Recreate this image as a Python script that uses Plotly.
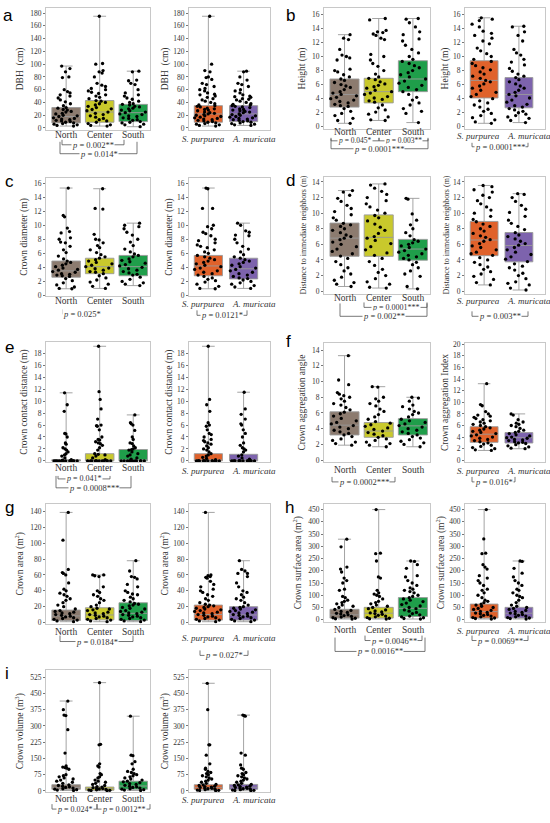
import plotly.graph_objects as go

# categories
REGIONS = ["North", "Center", "South"]
SPECIES = ["S. purpurea", "A. muricata"]
REGION_COLORS = ["#8C7B6F", "#C9C92C", "#1F9E4A"]
SPECIES_COLORS = ["#E0622B", "#7D63AD"]

# box stats per box: [min, q1, median, q3, max]  order: North, Center, South, S. purpurea, A. muricata
a_box = [[3, 8, 18, 32, 97], [3, 9, 25, 43, 175], [2, 10, 24, 37, 89], [3, 9, 22, 35, 175], [4, 10, 22, 35, 89]]
b_box = [[0.5, 2.8, 4.6, 6.8, 13.1], [0.9, 3.4, 5.0, 6.9, 15.4], [0.6, 5.0, 6.8, 9.4, 15.4],
         [0.5, 4.1, 6.6, 9.4, 15.5], [0.6, 2.7, 4.6, 7.0, 14.3]]
c_box = [[0.95, 2.6, 3.5, 4.9, 15.3], [1.0, 3.1, 4.1, 5.3, 15.2], [1.4, 2.8, 4.1, 5.7, 10.3],
         [0.95, 2.8, 4.2, 5.7, 15.3], [1.0, 2.35, 3.8, 5.3, 10.3]]
d_box = [[0.6, 4.47, 6.8, 8.73, 12.9], [0.4, 4.47, 6.9, 9.78, 13.75], [0.3, 3.97, 5.4, 6.64, 11.9],
         [0.8, 4.55, 6.56, 8.94, 13.55], [0.15, 3.76, 5.85, 7.52, 12.5]]
e_box = [[0, 0, 0, 0.2, 11.4], [0, 0, 0, 1.2, 19.2], [0, 0, 0, 1.9, 7.7], [0, 0, 0, 1.2, 19.2], [0, 0, 0, 1.1, 11.5]]
f_box = [[1.9, 3.2, 4.45, 6.15, 13.3], [1.7, 2.9, 3.7, 4.78, 9.35], [1.7, 3.2, 4.36, 5.28, 8.0],
         [1.7, 3.1, 4.5, 5.8, 13.2], [2.0, 2.98, 3.9, 4.78, 8.0]]
g_box = [[1, 2.5, 8.3, 15.7, 139], [1, 3.3, 9.5, 18.6, 60], [1, 2.5, 11.6, 24.9, 78], [1, 3, 10, 22, 139], [1, 3, 9.5, 20, 78]]
h_box = [[3, 6.7, 20, 42.6, 329], [3, 6.7, 26.6, 50.6, 450], [3, 13.3, 46.6, 90.5, 240],
         [3, 6.7, 33, 64, 450], [3, 6.7, 26.6, 50.6, 240]]
i_box = [[2, 7.6, 16.6, 28.7, 415], [1, 3, 10.6, 18, 500], [2, 7.6, 22.7, 45, 345], [1, 7.6, 16.6, 28.7, 497], [1, 7.6, 17, 30, 350]]

# individual trees (thinned)
a_north = [97, 93, 88, 80, 79, 60, 57, 55, 52, 50, 47, 44, 41, 38, 35, 32, 31, 29, 28, 26, 25, 23, 22, 20,
           19, 18, 16, 15, 14, 13, 12, 11, 10, 9, 8, 7, 6, 5, 4, 3]
a_center = [175, 101, 100, 90, 88, 86, 80, 70, 67, 65, 62, 60, 58, 56, 54, 52, 50, 48, 46, 43, 42, 40, 38,
            36, 34, 32, 30, 29, 27, 25, 23, 21, 19, 17, 15, 13, 11, 9, 7, 5, 4, 3]
a_south = [89, 88, 75, 74, 70, 68, 60, 55, 52, 50, 47, 45, 42, 40, 38, 37, 36, 34, 33, 31, 30, 28, 27, 25,
           24, 22, 21, 19, 18, 16, 15, 13, 12, 10, 9, 8, 6, 5, 2]
a_spur = [175, 100, 90, 88, 80, 79, 76, 70, 68, 65, 62, 60, 58, 55, 53, 52, 50, 48, 46, 44, 42, 40, 38, 36,
          35, 34, 33, 31, 30, 29, 28, 27, 25, 24, 23, 22, 21, 20, 19, 18, 17, 16, 15, 14, 13, 12, 11, 10,
          9, 8, 7, 6, 5, 4, 3]
a_amur = [89, 88, 80, 75, 70, 68, 65, 60, 58, 55, 52, 50, 49, 48, 46, 45, 44, 42, 40, 38, 37, 36, 35, 34,
          33, 32, 30, 29, 28, 27, 26, 25, 24, 22, 21, 20, 19, 18, 17, 16, 15, 14, 13, 12, 11, 10, 9, 8,
          7, 6, 5, 4]

b_north = [13.1, 12.6, 12.4, 11.0, 10.2, 10.0, 9.8, 9.5, 8.2, 8.0, 7.8, 7.4, 7.1, 6.8, 6.6, 6.3, 6.0, 5.8,
           5.6, 5.3, 5.0, 4.8, 4.6, 4.4, 4.2, 4.0, 3.8, 3.6, 3.4, 3.2, 3.0, 2.9, 2.6, 2.2, 1.9, 1.6, 1.2,
           0.9, 0.5]
b_center = [15.4, 15.2, 13.7, 13.5, 13.4, 13.2, 13.0, 12.6, 12.4, 10.3, 10.0, 9.5, 9.0, 8.6, 8.0, 7.5, 7.1,
            6.9, 6.7, 6.4, 6.1, 5.9, 5.7, 5.5, 5.2, 5.0, 4.8, 4.6, 4.3, 4.1, 3.9, 3.7, 3.5, 3.1, 2.7,
            2.4, 2.1, 1.8, 1.4, 1.0, 0.9]
b_south = [15.4, 15.3, 14.8, 14.2, 13.5, 13.1, 12.5, 12.2, 11.6, 11.0, 10.5, 10.0, 9.6, 9.3, 9.0, 8.7,
           8.4, 8.0, 7.7, 7.4, 7.1, 6.8, 6.5, 6.2, 5.9, 5.6, 5.3, 5.0, 4.6, 4.2, 3.8, 3.4, 3.1, 2.6,
           2.2, 1.9, 0.6]
b_spur = [15.5, 15.3, 15.1, 14.6, 14.2, 13.6, 13.3, 13.0, 12.6, 12.2, 11.8, 11.2, 10.8, 10.4, 10.0, 9.6,
          9.3, 9.0, 8.7, 8.4, 8.1, 7.8, 7.5, 7.2, 6.9, 6.6, 6.4, 6.1, 5.8, 5.5, 5.2, 4.9, 4.6, 4.3, 4.0,
          3.7, 3.4, 3.1, 2.8, 2.5, 2.2, 1.9, 1.6, 1.3, 1.0, 0.7, 0.5]
b_amur = [14.3, 14.2, 13.5, 13.0, 12.2, 11.0, 10.5, 10.2, 9.6, 9.2, 8.8, 8.3, 7.9, 7.5, 7.2, 7.0, 6.7, 6.4,
          6.1, 5.8, 5.5, 5.2, 4.9, 4.6, 4.4, 4.1, 3.8, 3.5, 3.2, 3.0, 2.8, 2.6, 2.4, 2.2, 2.0, 1.8, 1.6,
          1.4, 1.2, 0.9, 0.6]

c_north = [15.3, 11.4, 11.2, 9.6, 9.1, 8.9, 8.2, 8.0, 7.6, 7.5, 7.0, 6.5, 6.1, 5.6, 5.2, 4.9, 4.7, 4.5,
           4.3, 4.1, 3.9, 3.7, 3.6, 3.4, 3.3, 3.1, 3.0, 2.9, 2.8, 2.7, 2.4, 2.1, 1.8, 1.5, 1.2, 1.0, 0.95]
c_center = [15.2, 12.4, 12.3, 8.7, 8.0, 7.9, 7.5, 7.1, 6.8, 6.5, 6.1, 5.8, 5.5, 5.3, 5.1, 4.9, 4.7, 4.5,
            4.3, 4.1, 3.9, 3.8, 3.6, 3.4, 3.3, 3.1, 2.8, 2.5, 2.2, 1.9, 1.6, 1.3, 1.0]
c_south = [10.3, 10.0, 9.8, 9.5, 9.0, 8.6, 8.0, 7.6, 7.1, 6.6, 6.2, 5.9, 5.7, 5.5, 5.2, 5.0, 4.8, 4.6,
           4.4, 4.2, 4.0, 3.8, 3.6, 3.4, 3.2, 3.0, 2.9, 2.6, 2.3, 2.0, 1.8, 1.6, 1.4]
c_spur = [15.3, 15.2, 12.4, 12.4, 10.0, 9.8, 9.5, 9.0, 8.8, 8.5, 8.0, 7.8, 7.5, 7.2, 7.0, 6.8, 6.5, 6.2,
          6.0, 5.7, 5.5, 5.3, 5.1, 4.9, 4.7, 4.5, 4.3, 4.1, 3.9, 3.7, 3.5, 3.3, 3.1, 2.9, 2.7, 2.5, 2.3,
          2.1, 1.9, 1.6, 1.3, 1.0, 0.95]
c_amur = [10.3, 10.0, 9.2, 9.0, 8.6, 8.5, 8.0, 7.5, 7.0, 6.6, 6.2, 5.8, 5.5, 5.3, 5.1, 4.9, 4.7, 4.5, 4.3,
          4.1, 3.9, 3.7, 3.5, 3.3, 3.1, 2.9, 2.7, 2.5, 2.4, 2.2, 2.0, 1.8, 1.6, 1.4, 1.2, 1.0]

d_north = [12.9, 12.7, 12.3, 11.9, 11.5, 11.0, 10.6, 10.2, 9.8, 9.4, 9.1, 8.7, 8.5, 8.3, 8.0, 7.8, 7.5,
           7.2, 7.0, 6.8, 6.6, 6.3, 6.0, 5.7, 5.4, 5.1, 4.8, 4.5, 4.2, 3.8, 3.4, 3.0, 2.6, 2.2, 1.8, 1.4,
           1.1, 0.9, 0.6]
d_center = [13.75, 13.6, 13.2, 12.8, 12.4, 12.0, 11.6, 11.2, 10.8, 10.4, 10.0, 9.7, 9.4, 9.0, 8.6, 8.2,
            7.8, 7.4, 7.0, 6.8, 6.5, 6.1, 5.7, 5.3, 4.9, 4.6, 4.2, 3.8, 3.3, 2.8, 2.4, 2.0, 1.6, 1.2,
            0.9, 0.5, 0.4]
d_south = [11.9, 11.8, 9.9, 9.1, 8.5, 8.0, 7.5, 7.1, 6.6, 6.4, 6.2, 6.0, 5.8, 5.6, 5.4, 5.2, 5.0, 4.8,
           4.6, 4.4, 4.2, 4.0, 3.7, 3.4, 3.0, 2.6, 2.2, 1.9, 0.6, 0.3]
d_spur = [13.55, 13.4, 13.0, 12.7, 12.3, 12.0, 11.6, 11.2, 10.8, 10.4, 10.0, 9.6, 9.2, 8.9, 8.6, 8.3,
          8.0, 7.7, 7.4, 7.1, 6.9, 6.6, 6.4, 6.1, 5.8, 5.6, 5.3, 5.0, 4.8, 4.6, 4.3, 4.0, 3.7, 3.4, 3.1,
          2.8, 2.5, 2.2, 1.9, 1.5, 1.1, 0.8]
d_amur = [12.5, 12.4, 12.0, 11.5, 11.0, 10.5, 10.1, 9.6, 9.1, 8.7, 8.3, 7.9, 7.5, 7.2, 7.0, 6.7, 6.4,
          6.1, 5.9, 5.6, 5.3, 5.0, 4.7, 4.4, 4.1, 3.8, 3.5, 3.2, 3.0, 2.7, 2.3, 2.0, 1.6, 1.2, 1.0,
          0.8, 0.4, 0.15]

e_north = [11.4, 9.4, 8.3, 4.6, 4.5, 4.0, 3.0, 2.8, 2.2, 2.0, 1.8, 1.5, 1.2, 1.0, 0.8, 0.5, 0.2, 0.1,
           0, 0, 0, 0, 0, 0, 0, 0, 0, 0, 0, 0, 0, 0]
e_center = [19.2, 11.6, 10.3, 8.7, 7.0, 6.0, 5.9, 5.8, 5.2, 4.0, 3.6, 3.5, 3.2, 3.0, 2.9, 2.6, 2.2, 1.8,
            1.2, 1.1, 1.0, 0.8, 0.5, 0.2, 0, 0, 0, 0, 0, 0, 0, 0, 0, 0, 0, 0]
e_south = [7.7, 6.4, 6.2, 6.0, 5.1, 4.0, 3.6, 3.0, 2.9, 2.5, 2.2, 2.0, 1.9, 1.8, 1.5, 1.2, 1.0, 0.8,
           0.5, 0.3, 0, 0, 0, 0, 0, 0, 0, 0, 0, 0, 0]
e_spur = [19.2, 10.3, 9.4, 8.3, 6.4, 6.0, 5.8, 5.2, 4.6, 4.4, 4.0, 3.6, 3.4, 3.2, 3.0, 2.8, 2.5, 2.2,
          2.0, 1.8, 1.5, 1.2, 1.0, 0.8, 0.6, 0.4, 0.2, 0, 0, 0, 0, 0, 0, 0, 0, 0, 0, 0, 0, 0, 0, 0]
e_amur = [11.5, 8.7, 7.8, 7.0, 6.2, 6.0, 5.2, 4.6, 4.0, 3.0, 2.6, 2.2, 2.0, 1.8, 1.5, 1.0, 0.8, 0.5,
          0.3, 0, 0, 0, 0, 0, 0, 0, 0, 0, 0, 0, 0, 0, 0, 0]

f_north = [13.3, 10.2, 9.6, 8.6, 8.4, 8.2, 8.0, 7.8, 7.5, 7.2, 7.0, 6.7, 6.4, 6.1, 5.9, 5.6, 5.3, 5.0,
           4.8, 4.6, 4.4, 4.2, 4.0, 3.8, 3.6, 3.4, 3.2, 3.0, 2.7, 2.5, 2.3, 2.1, 1.9]
f_center = [9.35, 9.3, 8.0, 7.8, 7.5, 7.2, 6.9, 6.5, 6.2, 5.8, 5.5, 5.2, 4.9, 4.7, 4.5, 4.3, 4.1, 3.9,
            3.7, 3.5, 3.3, 3.1, 2.9, 2.7, 2.5, 2.3, 2.1, 1.9, 1.7]
f_south = [8.0, 7.9, 7.5, 7.0, 6.8, 6.5, 6.2, 6.0, 5.8, 5.5, 5.2, 5.0, 4.8, 4.6, 4.4, 4.2, 4.0, 3.8,
           3.6, 3.4, 3.2, 3.0, 2.8, 2.6, 2.4, 2.2, 2.0, 1.7]
f_spur = [13.2, 9.6, 9.4, 8.4, 8.0, 7.8, 7.6, 7.4, 7.2, 7.0, 6.8, 6.6, 6.4, 6.2, 6.0, 5.8, 5.6, 5.4, 5.2,
          5.0, 4.8, 4.6, 4.4, 4.2, 4.0, 3.8, 3.6, 3.4, 3.2, 3.0, 2.8, 2.6, 2.4, 2.2, 2.0, 1.8, 1.7]
f_amur = [8.0, 7.8, 7.0, 6.6, 6.4, 6.2, 6.0, 5.8, 5.5, 5.2, 5.0, 4.8, 4.6, 4.4, 4.2, 4.0, 3.9, 3.8, 3.6,
          3.5, 3.4, 3.2, 3.1, 3.0, 2.9, 2.7, 2.5, 2.3, 2.1, 2.0]

g_north = [139, 104, 67, 63, 62, 60, 50, 42, 40, 37, 35, 33, 30, 28, 25, 22, 20, 17, 15, 14, 13, 12, 11,
           10, 9, 8, 7, 6, 5, 4, 3, 2, 1]
g_center = [60, 60, 59, 58, 45, 40, 38, 35, 33, 30, 28, 25, 22, 20, 18, 17, 16, 15, 13, 12, 11, 10, 9, 8,
            7, 6, 5, 4, 3, 2, 1]
g_south = [78, 65, 58, 57, 55, 48, 45, 40, 38, 36, 35, 32, 30, 28, 26, 24, 23, 22, 21, 19, 18, 17, 15,
           14, 13, 12, 11, 10, 9, 8, 7, 6, 5, 4, 3, 2, 1]
g_spur = [139, 60, 59, 58, 57, 56, 52, 48, 45, 42, 40, 38, 35, 33, 30, 28, 25, 23, 22, 21, 20, 19, 18, 17,
          16, 15, 14, 13, 12, 11, 10, 9, 8, 7, 6, 5, 4, 3, 2, 1]
g_amur = [78, 67, 65, 62, 62, 58, 50, 45, 40, 38, 35, 32, 30, 28, 25, 22, 20, 19, 18, 17, 16, 15, 14, 13,
          12, 11, 10, 9, 8, 7, 6, 5, 4, 3, 2, 1]

h_north = [329, 298, 215, 207, 195, 170, 160, 150, 125, 120, 95, 90, 80, 75, 70, 65, 60, 55, 50, 42, 38,
           34, 30, 26, 23, 20, 17, 14, 11, 8, 6, 4, 3]
h_center = [450, 272, 270, 240, 175, 170, 120, 110, 105, 100, 95, 85, 75, 70, 65, 60, 55, 50, 45, 40, 36,
            32, 28, 25, 22, 18, 15, 12, 9, 6, 4, 3]
h_south = [240, 238, 225, 210, 180, 175, 160, 150, 140, 130, 125, 120, 115, 110, 100, 95, 90, 85, 80, 74,
           68, 62, 56, 50, 45, 40, 35, 30, 25, 20, 15, 12, 8, 5, 3]
h_spur = [450, 330, 272, 270, 225, 215, 207, 180, 170, 160, 150, 140, 125, 120, 110, 100, 90, 80, 75, 70,
          64, 60, 55, 50, 46, 42, 38, 34, 30, 27, 24, 21, 18, 15, 12, 9, 7, 5, 3]
h_amur = [240, 238, 210, 190, 175, 160, 150, 140, 125, 120, 110, 100, 95, 90, 80, 70, 60, 55, 50, 46, 42,
          38, 34, 30, 27, 24, 21, 18, 15, 12, 9, 7, 5, 3]

i_north = [415, 375, 350, 348, 283, 175, 115, 110, 108, 105, 100, 75, 70, 65, 60, 55, 50, 45, 40, 35, 28,
           25, 22, 19, 16, 13, 10, 8, 6, 4, 2]
i_center = [500, 215, 213, 125, 115, 110, 80, 75, 65, 60, 50, 45, 40, 35, 30, 25, 20, 18, 15, 13, 11, 9,
            7, 5, 4, 3, 2, 1]
i_south = [345, 165, 163, 135, 125, 100, 90, 85, 80, 75, 70, 65, 60, 55, 50, 45, 42, 38, 34, 30, 26, 22,
           19, 16, 13, 10, 8, 6, 4, 2]
i_spur = [497, 375, 213, 213, 165, 125, 105, 100, 90, 85, 80, 75, 70, 65, 60, 55, 50, 45, 40, 35, 30, 28,
          25, 22, 20, 18, 16, 14, 12, 10, 8, 6, 4, 3, 2, 1]
i_amur = [350, 348, 345, 175, 165, 120, 105, 100, 85, 80, 75, 70, 65, 60, 55, 50, 45, 40, 35, 30, 28, 25,
          22, 20, 18, 16, 14, 12, 10, 8, 6, 4, 3, 2, 1]

# y titles
TITLES = {
    "a": ("DBH  (cm)", "DBH  (cm)"),
    "b": ("Height (m)", "Height (m)"),
    "c": ("Crown diameter (m)", "Crown diameter (m)"),
    "d": ("Distance to immediate neighbors (m)", "Distance to immediate neighbors (m)"),
    "e": ("Crown contact distance (m)", "Crown contact distance (m)"),
    "f": ("Crown aggregation angle", "Crown aggregation Index"),
    "g": ("Crown area (m<sup>2</sup>)", "Crown area (m<sup>2</sup>)"),
    "h": ("Crown surface area (m<sup>2</sup>)", "Crown surface area (m<sup>2</sup>)"),
    "i": ("Crown volume (m<sup>3</sup>)", "Crown volume (m<sup>3</sup>)"),
}

W, H = 550, 823
SERIF = "Liberation Serif"


def fx(px):
    return px / W


def fy(py):
    return 1 - py / H


# panel layout: letter, stats, points, column, (top, bottom) px, left y range/dtick, right y range/dtick,
# label offsets below the axes (region, species)
panels = [
    ("a", a_box, [a_north, a_center, a_south, a_spur, a_amur], 0, (5, 128), ([-3, 188], 20), ([-3, 188], 20), (5, 9)),
    ("b", b_box, [b_north, b_center, b_south, b_spur, b_amur], 1, (5, 127), ([-0.3, 16.9], 2), ([-0.3, 16.9], 2), (3, 7)),
    ("c", c_box, [c_north, c_center, c_south, c_spur, c_amur], 0, (176, 296), ([-0.15, 16.8], 2), ([-0.15, 16.8], 2), (5, 8)),
    ("d", d_box, [d_north, d_center, d_south, d_spur, d_amur], 1, (175, 293), ([-0.3, 14.7], 2), ([-0.3, 14.7], 2), (5, 8)),
    ("e", e_box, [e_north, e_center, e_south, e_spur, e_amur], 0, (342, 463), ([-0.2, 19.9], 2), ([-0.2, 19.9], 2), (6, 9)),
    ("f", f_box, [f_north, f_center, f_south, f_spur, f_amur], 1, (343, 463), ([-0.25, 14.9], 2), ([-0.3, 20.2], 2), (8, 9)),
    ("g", g_box, [g_north, g_center, g_south, g_spur, g_amur], 0, (505, 626), ([-1.5, 150], 20), ([-1.5, 150], 20), (8, 14)),
    ("h", h_box, [h_north, h_center, h_south, h_spur, h_amur], 1, (505, 624), ([-8, 474], 50), ([-8, 474], 50), (8, 9)),
    ("i", i_box, [i_north, i_center, i_south, i_spur, i_amur], 0, (673, 796), ([-6, 557], 75), ([-6, 557], 75), (7, 8)),
]
COLS = [((46, 150), (189, 270)), ((324, 430), (465, 545))]
LETTER_POS = {"a": (8, 13), "b": (290, 13), "c": (9, 180), "d": (290, 179), "e": (9, 347),
              "f": (288, 341), "g": (9, 509), "h": (289, 509), "i": (7, 676)}

# significance brackets: x0, x1, top, bottom (px), label, font size
brackets = [
    (62, 124, 138, 143, "p = 0.002**", 8.5), (60, 137, 140, 152, "p = 0.014*", 8.5),
    (331, 379, 136, 139, "p = 0.045*", 7.5), (379, 428, 136, 139, "p = 0.003**", 7.5),
    (331, 428, 137, 147, "p = 0.0001***", 8.5), (472, 528, 141, 145, "p = 0.0001***", 8.5),
    (63, 100, 309, 314, "p = 0.025*", 8.5), (197, 247, 310, 315, "p = 0.0121*", 8.5),
    (364, 427, 302, 307, "p = 0.0001***", 8), (340, 427, 303, 316, "p = 0.002**", 8.5),
    (472, 528, 311, 316, "p = 0.003**", 8.5),
    (58, 110, 477, 480, "p = 0.041*", 8), (56, 131, 477, 489, "p = 0.0008***", 8.5),
    (332, 395, 478, 483, "p = 0.0002***", 8.5), (472, 515, 478, 483, "p = 0.016*", 8.5),
    (60, 133, 638, 644, "p = 0.0184*", 8.5), (200, 248, 653, 658, "p = 0.027*", 8.5),
    (365, 422, 638, 643, "p = 0.0046**", 8.5), (335, 425, 640, 654, "p = 0.0016**", 8.5),
    (472, 528, 638, 643, "p = 0.0069**", 8.5),
    (52, 97, 808, 813, "p = 0.024*", 8), (97, 150, 808, 813, "p = 0.0012**", 8),
]

fig = go.Figure()
layout = {}
shapes = []
annotations = []

k = 0
for letter, stats, points, col, (top, bot), left_y, right_y, lab_off in panels:
    for side in range(2):
        k += 1
        xa = "x" if k == 1 else f"x{k}"
        ya = "y" if k == 1 else f"y{k}"
        cats = REGIONS if side == 0 else SPECIES
        colors = REGION_COLORS if side == 0 else SPECIES_COLORS
        idx = [0, 1, 2] if side == 0 else [3, 4]
        bw = 0.85 if side == 0 else 0.8
        for cat, color, j in zip(cats, colors, idx):
            mn, q1, med, q3, mx = stats[j]
            fig.add_trace(go.Box(
                x=[cat], q1=[q1], median=[med], q3=[q3], lowerfence=[mn], upperfence=[mx],
                fillcolor=color, line=dict(color="#9a9a9a", width=0.9), whiskerwidth=0.45,
                width=bw, boxpoints=False, xaxis=xa, yaxis=ya, showlegend=False, hoverinfo="skip",
            ))
            fig.add_trace(go.Box(
                x=[cat] * len(points[j]), y=points[j], boxpoints="all", jitter=1, pointpos=0,
                width=bw, fillcolor="rgba(0,0,0,0)", line=dict(color="rgba(0,0,0,0)", width=0),
                whiskerwidth=0, marker=dict(color="black", size=3.3),
                xaxis=xa, yaxis=ya, showlegend=False,
            ))
        xd = COLS[col][side]
        yr, dt = left_y if side == 0 else right_y
        xrange = [-0.6, 2.5] if side == 0 else [-0.55, 1.75]
        title_size = 8 if letter == "d" else 9.5
        axis_common = dict(showline=True, mirror=True, linecolor="#c8c8c8", linewidth=1,
                           showgrid=False, zeroline=False)
        layout["xaxis" if k == 1 else f"xaxis{k}"] = dict(
            domain=[fx(xd[0]), fx(xd[1])], anchor=ya, type="category", range=xrange,
            categoryorder="array", categoryarray=cats, showticklabels=False, ticks="",
            **axis_common)
        layout["yaxis" if k == 1 else f"yaxis{k}"] = dict(
            domain=[fy(bot), fy(top)], anchor=xa, range=yr, dtick=dt, tick0=0,
            ticks="outside", ticklen=2, tickcolor="#777",
            tickfont=dict(family=SERIF, size=7.5, color="#333"),
            title=dict(text=TITLES[letter][side], standoff=4 if side == 0 else 2,
                       font=dict(family=SERIF, size=title_size, color="#333")),
            **axis_common)
        # category labels sit just under the frame
        if side == 0:
            for cat in cats:
                annotations.append(dict(x=cat, xref=xa, y=fy(bot + lab_off[0]), yref="paper",
                                        text=cat, showarrow=False, xanchor="center", yanchor="middle",
                                        font=dict(family=SERIF, size=9.5, color="#333")))
        else:
            mid = (xd[0] + xd[1]) / 2 - 2
            for cat, anchor, dx in zip(cats, ["right", "left"], [-1, 2]):
                annotations.append(dict(x=fx(mid + dx), xref="paper", y=fy(bot + lab_off[1]), yref="paper",
                                        text=f"<i>{cat}</i>", showarrow=False, xanchor=anchor,
                                        yanchor="middle", font=dict(family=SERIF, size=9, color="#333")))
    lx, ly = LETTER_POS[letter]
    annotations.append(dict(x=fx(lx), y=fy(ly), xref="paper", yref="paper", text=letter,
                            showarrow=False, xanchor="center", yanchor="middle",
                            font=dict(family="Liberation Sans", size=17, color="black")))

for x0, x1, t, b, label, size in brackets:
    shapes.append(dict(type="path", xref="paper", yref="paper",
                       path=f"M {fx(x0)},{fy(t)} L {fx(x0)},{fy(b)} L {fx(x1)},{fy(b)} L {fx(x1)},{fy(t)}",
                       line=dict(color="#555", width=0.8)))
    annotations.append(dict(x=fx((x0 + x1) / 2), y=fy(b), xref="paper", yref="paper",
                            text=label.replace("p =", "<i>p</i> ="), showarrow=False,
                            xanchor="center", yanchor="middle", bgcolor="white", borderpad=0,
                            font=dict(family=SERIF, size=size, color="#333")))

fig.update_layout(
    **layout,
    width=W, height=H,
    margin=dict(l=0, r=0, t=0, b=0),
    paper_bgcolor="white", plot_bgcolor="white",
    boxmode="overlay", showlegend=False,
    shapes=shapes, annotations=annotations,
    font=dict(family=SERIF, color="#333"),
)
# the page's default body margin would push the figure off the 550 px window
fig.write_html("out.html", config={"displayModeBar": False},
               post_script="document.body.style.margin='0';document.body.style.overflow='hidden';")
